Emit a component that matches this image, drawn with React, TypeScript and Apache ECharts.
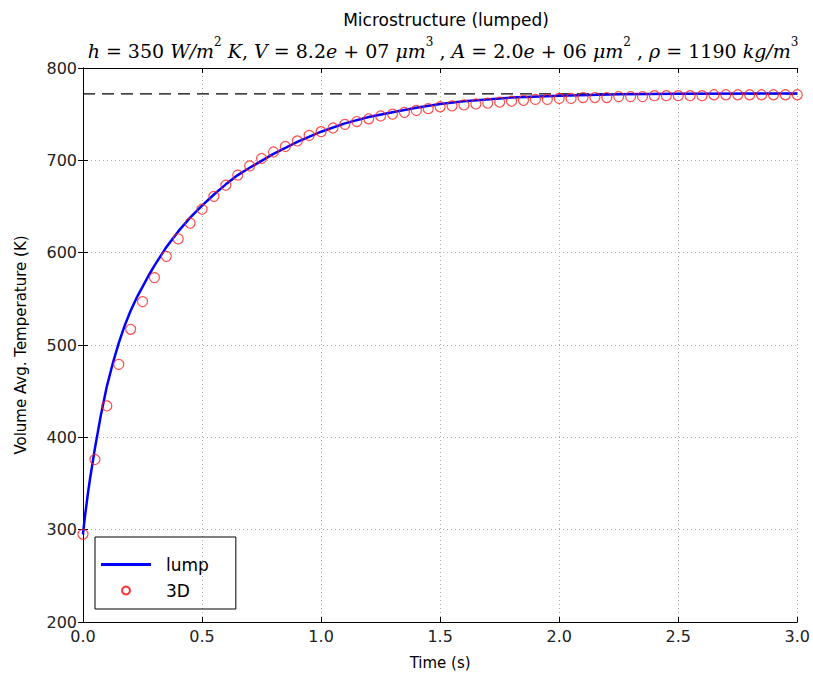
import React, { useEffect, useRef } from "react";
import * as echarts from "echarts";

const xTicks = [0, 0.5, 1.0, 1.5, 2.0, 2.5, 3.0];
const yTicks = [200, 300, 400, 500, 600, 700, 800];

const lumpTime = [0, 0.005, 0.01, 0.02, 0.03, 0.04, 0.05, 0.075, 0.1, 0.125, 0.15, 0.175, 0.2, 0.225, 0.25, 0.275, 0.3, 0.35, 0.4, 0.45, 0.5, 0.55, 0.6, 0.65, 0.7, 0.8, 0.9, 1.0, 1.1, 1.2, 1.3, 1.4, 1.5, 1.6, 1.8, 2.0, 2.25, 2.5, 3.0];
const lumpTemp = [295, 307, 318, 338, 356, 372, 388, 424, 455, 480, 502, 521, 537, 551, 563, 575, 586, 606, 623, 638, 651, 663, 674, 684, 692, 707, 720, 731, 740, 747, 752, 757, 761, 764, 768, 770, 771.5, 772, 772.5];

const time3D = [0, 0.05, 0.1, 0.15, 0.2, 0.25, 0.3, 0.35, 0.4, 0.45, 0.5, 0.55, 0.6, 0.65, 0.7, 0.75, 0.8, 0.85, 0.9, 0.95, 1.0, 1.05, 1.1, 1.15, 1.2, 1.25, 1.3, 1.35, 1.4, 1.45, 1.5, 1.55, 1.6, 1.65, 1.7, 1.75, 1.8, 1.85, 1.9, 1.95, 2.0, 2.05, 2.1, 2.15, 2.2, 2.25, 2.3, 2.35, 2.4, 2.45, 2.5, 2.55, 2.6, 2.65, 2.7, 2.75, 2.8, 2.85, 2.9, 2.95, 3.0];
const temp3D = [295, 376, 434, 479, 517, 547, 573, 596, 615, 632, 647, 661, 673, 684, 694, 702, 709, 715, 721, 727, 731, 735, 739, 742, 745, 748, 750, 752, 754, 756, 758, 759, 760, 761, 762, 763, 764, 765, 766, 766, 767, 767, 768, 768, 768, 769, 769, 769, 770, 770, 770, 770, 770, 771, 771, 771, 771, 771, 771, 771, 771];

const steadyTemp = 772;

export default function App() {
  const ref = useRef<HTMLDivElement>(null);
  useEffect(() => {
    document.body.style.margin = "0";
    const chart = echarts.init(ref.current!, null, { renderer: "svg" });
    const sans = "DejaVu Sans";
    const serif = "DejaVu Serif";
    const base = { fontFamily: serif, fontWeight: "normal", fontSize: 19, color: "#000", lineHeight: 24, verticalAlign: "bottom" };
    const it = { ...base, fontStyle: "italic" };
    const rm = { ...base, fontStyle: "normal" };
    const sp = { ...base, fontStyle: "normal", fontSize: 12, verticalAlign: "top" };
    const sub =
      "{i|h}{r| = 350 }{i|W/m}{s|2}{r| }{i|K}{r|, }{i|V}{r| = 8.2}{i|e}{r| + 07 }{i|μm}{s|3}{r| , }{i|A}{r| = 2.0}{i|e}{r| + 06 }{i|μm}{s|2}{r| , }{i|ρ}{r| = 1190 }{i|kg/m}{s|3}";
    const axisCommon = {
      axisLine: { show: true, lineStyle: { color: "#000", width: 1 } },
      axisTick: { show: true, inside: true, length: 5, lineStyle: { color: "#000" } },
    };
    chart.setOption({
      animation: false,
      title: [
        {
          text: "Microstructure (lumped)",
          left: 441,
          top: 6,
          textAlign: "center",
          textStyle: { fontFamily: sans, fontSize: 17, fontWeight: "normal", color: "#000" },
        },
        {
          text: sub,
          left: 438,
          top: 31,
          textAlign: "center",
          textStyle: { fontWeight: "normal", rich: { i: it, r: rm, s: sp } },
        },
      ],
      grid: { left: 83, right: 14, top: 68, bottom: 55, containLabel: false },
      legend: {
        orient: "vertical",
        left: 95,
        top: 537,
        padding: [19, 27, 10, 6],
        borderColor: "#000",
        borderWidth: 1,
        itemWidth: 50,
        itemHeight: 8,
        itemGap: 9,
        textStyle: { fontFamily: sans, fontSize: 17, color: "#000", padding: [0, 0, 0, 10] },
        data: [
          { name: "lump", icon: "path://M0,0H50V3H0Z", itemStyle: { color: "#0000ff" } },
          { name: "3D", icon: "emptyCircle", itemStyle: { color: "#ff0000", borderColor: "#ff0000", borderWidth: 1 } },
        ],
      },
      xAxis: [
        {
          type: "value",
          min: 0,
          max: 3,
          interval: 0.5,
          name: "Time (s)",
          nameLocation: "middle",
          nameGap: 33,
          nameTextStyle: { fontFamily: sans, fontSize: 15, color: "#000" },
          ...axisCommon,
          axisLabel: { fontFamily: sans, fontSize: 16, color: "#222", margin: 6, formatter: (v: number) => v.toFixed(1) },
          splitLine: { show: true, lineStyle: { color: "#aaa", type: [1, 3] } },
        },
        {
          type: "value",
          position: "top",
          min: 0,
          max: 3,
          interval: 0.5,
          ...axisCommon,
          axisLabel: { show: false },
          splitLine: { show: false },
        },
      ],
      yAxis: [
        {
          type: "value",
          min: 200,
          max: 800,
          interval: 100,
          name: "Volume Avg. Temperature (K)",
          nameLocation: "middle",
          nameGap: 55,
          nameTextStyle: { fontFamily: sans, fontSize: 15, color: "#000" },
          ...axisCommon,
          axisLabel: { fontFamily: sans, fontSize: 16, color: "#222", margin: 6 },
          splitLine: { show: true, lineStyle: { color: "#aaa", type: [1, 3] } },
        },
        {
          type: "value",
          position: "right",
          min: 200,
          max: 800,
          interval: 100,
          ...axisCommon,
          axisLabel: { show: false },
          splitLine: { show: false },
        },
      ],
      series: [
        {
          name: "lump",
          type: "line",
          data: lumpTime.map((t, i) => [t, lumpTemp[i]]),
          showSymbol: false,
          smooth: false,
          lineStyle: { color: "#0000ff", width: 2.5, join: "round" },
          itemStyle: { color: "#0000ff" },
          z: 2,
        },
        {
          name: "3D",
          type: "scatter",
          data: time3D.map((t, i) => [t, temp3D[i]]),
          symbol: "circle",
          symbolSize: 10,
          itemStyle: { color: "rgba(0,0,0,0)", borderColor: "#ff2020", borderWidth: 1.2 },
          z: 3,
        },
        {
          name: "steady",
          type: "line",
          data: [[0, steadyTemp], [3, steadyTemp]],
          showSymbol: false,
          lineStyle: { color: "#000", width: 1.2, type: [12, 7] },
          z: 1,
        },
      ],
    });
    return () => chart.dispose();
  }, []);
  return <div ref={ref} style={{ width: 813, height: 677 }} />;
}
